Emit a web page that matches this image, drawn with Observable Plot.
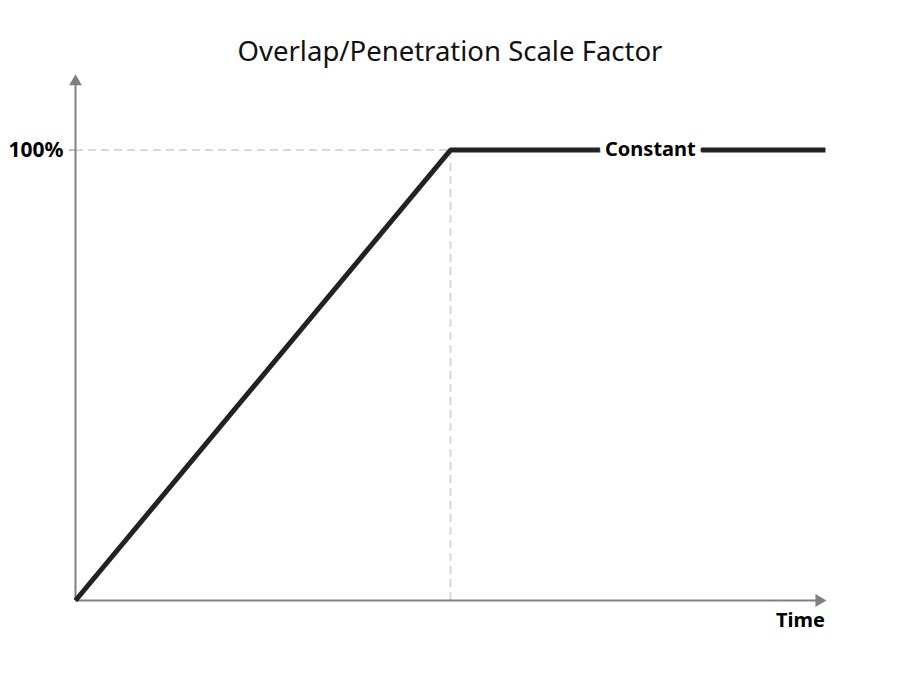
<!DOCTYPE html>
<html>
<head>
<meta charset="utf-8">
<script src="https://cdn.jsdelivr.net/npm/d3@7"></script>
<script src="https://cdn.jsdelivr.net/npm/@observablehq/plot@0.6"></script>
<style>
  html, body { margin: 0; padding: 0; background: #fff; }
  #wrap { width: 900px; height: 675px; position: relative; }
  #title { height: 63px; width: 900px; text-align: center; font-family: "Noto Sans", "Open Sans", sans-serif; font-size: 27.5px; font-weight: 400; color: #111; line-height: 28px; padding-top: 37px; box-sizing: border-box; }
  svg { overflow: visible; }
</style>
</head>
<body>
<div id="wrap">
  <div id="title">Overlap/Penetration Scale Factor</div>
  <div id="chart"></div>
</div>
<script>
// Data
const times = [0, 1, 2];            // ramp start, ramp end, constant end
const scaleFactor = [0, 1, 1];      // 0 → 100% → 100%
const peakTime = 1;
const peakValue = 1;
const xDomain = [0, 2.02];
const yDomain = [0, 1.17];
const xAxisEnd = 1.983;
const yAxisEnd = 1.152;
const yTicks = [1];
const yTickLabels = ["100%"];
const constantLabel = "Constant";
const constantLabelX = 1.533;
const xAxisLabel = "Time";

const series = times.map((t, i) => ({t, v: scaleFactor[i]}));
const font = "'Noto Sans', 'Open Sans', sans-serif";

const chart = Plot.plot({
  width: 900,
  height: 612,
  marginLeft: 75,
  marginRight: 67.5,
  marginTop: 10,
  marginBottom: 75,
  style: {fontFamily: font, background: "white", overflow: "visible"},
  x: {domain: xDomain, axis: null},
  y: {domain: yDomain},
  marks: [
    // dashed guides
    Plot.ruleY([peakValue], {x1: xDomain[0], x2: peakTime, stroke: "#d9d9d9", strokeWidth: 2, strokeDasharray: "8,5"}),
    Plot.ruleX([peakTime], {y1: yDomain[0], y2: peakValue, stroke: "#d9d9d9", strokeWidth: 2, strokeDasharray: "8,5"}),
    // axis lines
    Plot.ruleY([0], {x1: xDomain[0], x2: xAxisEnd, stroke: "#808080", strokeWidth: 2}),
    Plot.ruleX([0], {y1: yDomain[0], y2: yAxisEnd, stroke: "#808080", strokeWidth: 2}),
    // arrowheads
    Plot.dot([{x: 0, y: yAxisEnd}], {x: "x", y: "y", symbol: "triangle", r: 4.75, fill: "#808080", stroke: null}),
    Plot.dot([{x: xAxisEnd, y: 0}], {x: "x", y: "y", symbol: "triangle", r: 4.75, fill: "#808080", stroke: null, rotate: 90}),
    // y tick
    Plot.axisY(yTicks, {
      tickFormat: (d, i) => yTickLabels[i],
      tickSize: 6,
      tickPadding: 6,
      stroke: "#808080",
      fontSize: 21,
      fontWeight: "bold",
      fill: "black",
      label: null
    }),
    // main line
    Plot.line(series, {x: "t", y: "v", stroke: "#222222", strokeWidth: 5, strokeLinejoin: "miter", strokeLinecap: "butt"}),
    // constant label
    Plot.text([constantLabel], {x: constantLabelX, y: peakValue, text: d => d, fontSize: 20, fontWeight: "bold", fill: "black", stroke: "white", strokeWidth: 12}),
    // x label
    Plot.text([xAxisLabel], {frameAnchor: "bottom-right", text: d => d, dy: 26, dx: -8, textAnchor: "end", fontSize: 20, fontWeight: "bold", fill: "black"})
  ]
});
document.getElementById("chart").appendChild(chart);
</script>
</body>
</html>
